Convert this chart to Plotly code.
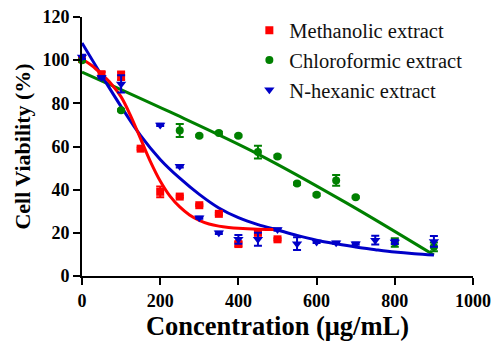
import plotly.graph_objects as go

# ---- data ----
meth_x = [0, 50, 100, 150, 200, 250, 300, 350, 400, 450, 500]
meth_y = [100.5, 93.5, 92.8, 59, 39, 36.8, 32.8, 28.8, 14.8, 20, 17]
meth_err = [1, 1, 2, 0.5, 2.5, 0.5, 0.5, 0.5, 1, 1, 0.5]

chl_x = [0, 100, 250, 300, 350, 400, 450, 500, 550, 600, 650, 700, 800, 900]
chl_y = [100, 76.8, 67.4, 65, 66.3, 65, 57.4, 55.4, 42.8, 37.7, 44.3, 36.5, 15.5, 13.5]
chl_err = [0.5, 0.5, 3, 0.5, 0.5, 0.5, 3, 0.5, 0.5, 0.5, 2.5, 0.5, 2, 2]

hex_x = [0, 50, 100, 200, 250, 300, 350, 400, 450, 500, 550, 600, 650, 700, 750, 800, 900]
hex_y = [101.5, 92, 89, 70, 50.8, 27, 20, 17, 17, 21.5, 15, 15.8, 15.4, 15, 16.6, 15.8, 16]
hex_err = [1, 0.5, 4, 0.5, 0.5, 0.5, 0.5, 2, 3, 0.5, 3, 0.5, 0.5, 0.5, 2, 1, 2.5]

# fitted curves
meth_fit_x = [0, 25, 50, 75, 100, 125, 150, 175, 200, 225, 250, 275, 300, 325, 350, 375, 400, 450, 500]
meth_fit_y = [100.5, 97.5, 93.5, 89, 83, 74, 63.5, 53, 44, 37, 32, 28.3, 25.8, 24.1, 23.1, 22.5, 22.1, 21.7, 21.6]

chl_fit_x = [0, 225, 450, 675, 900]
chl_fit_y = [94.5, 76, 56.5, 34, 9.7]

hex_fit_x = [0, 50, 100, 150, 200, 250, 300, 350, 400, 450, 500, 550, 600, 650, 700, 750, 800, 850, 900]
hex_fit_y = [108, 93, 78.5, 65, 54, 45.3, 37.8, 31.5, 27, 23.8, 21.3, 18.8, 16.6, 14.9, 13.4, 12.2, 11.1, 10.3, 9.7]

x_ticks = [0, 200, 400, 600, 800, 1000]
y_ticks = [0, 20, 40, 60, 80, 100, 120]

RED = "#ff0000"
GREEN = "#008000"
BLUE = "#0000c8"
FONT = "Liberation Serif, Times New Roman, serif"

fig = go.Figure()

# fit curves
for fx, fy, col in [(chl_fit_x, chl_fit_y, GREEN), (hex_fit_x, hex_fit_y, BLUE), (meth_fit_x, meth_fit_y, RED)]:
    fig.add_trace(go.Scatter(x=fx, y=fy, mode="lines", line=dict(color=col, width=3, shape="spline"),
                             showlegend=False, hoverinfo="skip", cliponaxis=False))

# points
series = [
    ("Methanolic extract", meth_x, meth_y, meth_err, RED, "square", 8),
    ("Chloroformic extract", chl_x, chl_y, chl_err, GREEN, "circle", 8),
    ("N-hexanic extract", hex_x, hex_y, hex_err, BLUE, "triangle-down", 9),
]
for i, (name, x, y, e, col, sym, sz) in enumerate(series):
    fig.add_trace(go.Scatter(
        x=x, y=y, mode="markers", name=name, legendgroup=f"g{i}",
        marker=dict(color=col, symbol=sym, size=sz, line=dict(width=0)),
        error_y=dict(type="data", array=e, color=col, thickness=2, width=4),
        cliponaxis=False,
    ))

fig.update_layout(
    width=493, height=341,
    margin=dict(l=82, r=20, t=17, b=65, autoexpand=False),
    plot_bgcolor="white", paper_bgcolor="white",
    font=dict(family=FONT, color="black"),
    showlegend=True,
    legend=dict(x=0.428, y=1.025, xanchor="left", yanchor="top",
                font=dict(family=FONT, size=20.5, color="#111111"),
                bgcolor="rgba(0,0,0,0)", traceorder="grouped", tracegroupgap=0,
                itemsizing="trace"),
    xaxis=dict(range=[0, 1000], tickvals=x_ticks, ticktext=[str(v) for v in x_ticks],
               showline=True, linecolor="black", linewidth=2, mirror=False, automargin=False,
               ticks="outside", ticklen=7, tickwidth=2, tickcolor="black",
               showgrid=False, zeroline=False, ticklabeloverflow="allow",
               tickfont=dict(family=FONT, size=18, color="black", weight="bold"),
               title=dict(text="<b>Concentration (μg/mL)</b>", standoff=8,
                          font=dict(family=FONT, size=26.5, color="black"))),
    yaxis=dict(range=[0, 120], tickvals=y_ticks, ticktext=[str(v) for v in y_ticks],
               showline=True, linecolor="black", linewidth=2, mirror=False, automargin=False,
               ticks="outside", ticklen=7, tickwidth=2, tickcolor="black",
               showgrid=False, zeroline=False, ticklabeloverflow="allow",
               tickfont=dict(family=FONT, size=18, color="black", weight="bold"),
               title=dict(text="<b>Cell Viability (%)</b>", standoff=6,
                          font=dict(family=FONT, size=22, color="black"))),
)

fig.write_html("out.html", config={"displayModeBar": False},
               post_script="document.body.style.margin='0';document.body.style.overflow='hidden';")
